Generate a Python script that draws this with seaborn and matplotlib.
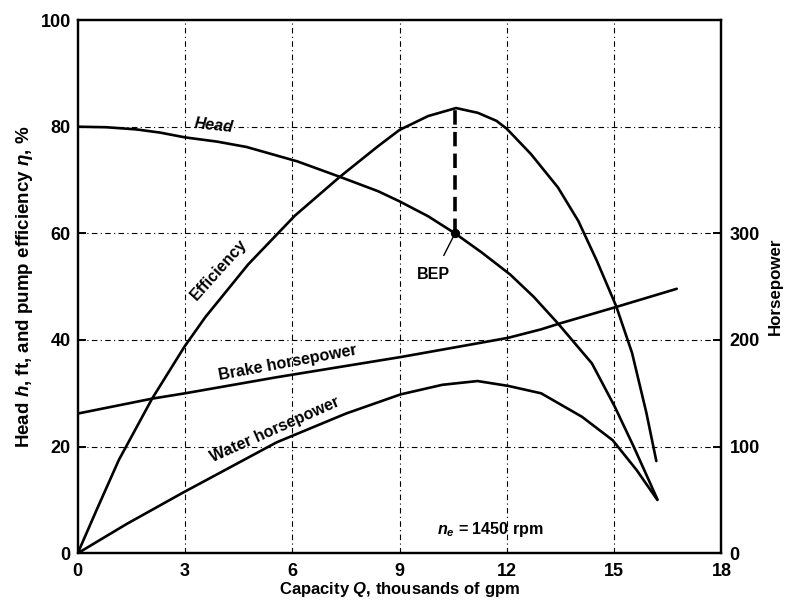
import matplotlib
matplotlib.use("Agg")
import matplotlib.pyplot as plt
import seaborn as sns
import pandas as pd

# ---- data ----
# Head h (ft) vs capacity Q (thousands of gpm)
q_head = [0, 0.8, 1.63, 2.3, 3.0, 3.9, 4.72, 6.14, 7.33, 8.4, 9.0, 9.8, 10.55, 11.3, 12.09,
          12.75, 13.43, 14.38, 15.01, 15.54, 15.95, 16.21]
head = [80, 79.9, 79.5, 78.9, 78.0, 77.2, 76.2, 73.5, 70.6, 67.9, 66.0, 63.2, 60, 56.4, 52.3,
        48.1, 43.1, 35.6, 27.6, 20.1, 14.0, 10.1]

# Pump efficiency (%)
q_eff = [0, 0.52, 1.15, 2.08, 2.99, 3.57, 4.77, 6.07, 7.33, 8.39, 9.0, 9.8, 10.58,
         11.19, 11.71, 12.0, 12.67, 13.43, 14.0, 14.52, 15.06, 15.5, 15.9, 16.18]
eff = [0, 8, 17.5, 29, 38.8, 44.3, 54.2, 63.3, 70.6, 76.3, 79.4, 82, 83.5,
       82.6, 81.1, 79.6, 74.9, 68.6, 62.3, 54.8, 46.3, 37.6, 26.4, 17.3]

# Brake horsepower (hp)
q_bhp = [0, 2.08, 3.0, 5.55, 9.03, 11.37, 12.03, 12.96, 13.43, 15.06, 16.75]
bhp = [131, 145, 150, 165, 184, 198, 202, 210, 215, 231, 248]

# Water horsepower (hp)
q_whp = [0, 1.37, 2.95, 5.56, 7.5, 9.03, 10.2, 11.18, 12.03, 12.96, 14.1, 14.96, 15.63, 16.21]
whp = [0, 27.5, 57, 104, 131, 149, 158, 161.5, 157, 150, 128, 106, 78, 50]

bep_q, bep_head, bep_eff = 10.55, 60, 83.5

x_ticks = [0, 3, 6, 9, 12, 15, 18]
y_ticks = [0, 20, 40, 60, 80, 100]
hp_ticks = [0, 100, 200, 300]

sns.set_style("white")
plt.rcParams['font.family'] = ['Liberation Sans', 'DejaVu Sans']
plt.rcParams['text.color'] = 'black'
plt.rcParams['axes.labelcolor'] = 'black'
plt.rcParams['mathtext.fontset'] = 'custom'
plt.rcParams['mathtext.it'] = 'Liberation Sans:italic:bold'
plt.rcParams['mathtext.rm'] = 'Liberation Sans:bold'
plt.rcParams['mathtext.bf'] = 'Liberation Sans:bold'

fig = plt.figure(figsize=(7.85, 6.08), dpi=100)
ax = fig.add_axes([0.099, 0.09, 0.82, 0.877])
ax2 = ax.twinx()

df_head = pd.DataFrame({"Q": q_head, "v": head})
df_eff = pd.DataFrame({"Q": q_eff, "v": eff})
df_bhp = pd.DataFrame({"Q": q_bhp, "v": bhp})
df_whp = pd.DataFrame({"Q": q_whp, "v": whp})

lw = 1.9
sns.lineplot(data=df_head, x="Q", y="v", ax=ax, color="black", lw=lw, sort=False)
sns.lineplot(data=df_eff, x="Q", y="v", ax=ax, color="black", lw=lw, sort=False)
sns.lineplot(data=df_bhp, x="Q", y="v", ax=ax2, color="black", lw=lw, sort=False)
sns.lineplot(data=df_whp, x="Q", y="v", ax=ax2, color="black", lw=lw, sort=False)

ax.set_xlim(0, 18)
ax.set_ylim(0, 100)
ax2.set_ylim(0, 500)
ax.set_xticks(x_ticks)
ax.set_yticks(y_ticks)
ax2.set_yticks(hp_ticks)

# grid: dash-dot lines
gstyle = dict(color="black", lw=0.8, ls=(0, (5, 3, 1, 3)), zorder=0)
for xv in x_ticks[1:-1]:
    ax.axvline(xv, **gstyle)
for yv in y_ticks[1:-1]:
    ax.axhline(yv, **gstyle)

# BEP
ax.plot([bep_q, bep_q], [bep_head, bep_eff], color="black", lw=2.6, ls=(0, (4, 2)))
ax.scatter([bep_q], [bep_head], color="black", s=32, zorder=5)
ax.annotate("BEP", xy=(bep_q, bep_head), xytext=(9.96, 52.2), fontsize=11.5,
            fontweight="bold", ha="center", va="center",
            arrowprops=dict(arrowstyle="-", color="black", lw=1.0, shrinkA=7, shrinkB=2))

# curve labels
tk = dict(fontsize=11.6, ha="center", va="center", color="black", fontweight="bold")
ax.text(3.81, 80.3, "Head", rotation=-6, style="italic", **tk)
ax.text(3.95, 53.2, "Efficiency", rotation=48, **tk)
ax.text(5.87, 35.8, "Brake horsepower", rotation=10.5, **tk)
ax.text(5.5, 23.2, "Water horsepower", rotation=24, **tk)
ax.text(11.54, 4.4, r"$n_e$ = 1450 rpm", **tk)

for a in (ax, ax2):
    for s in a.spines.values():
        s.set_linewidth(1.6)
        s.set_color("black")
    a.tick_params(direction="in", length=6, width=1.4, labelsize=13, colors="black")
ax.tick_params(axis="x", pad=7)
ax.tick_params(axis="y", pad=5)
ax2.tick_params(axis="y", pad=6)
for lab in ax.get_xticklabels() + ax.get_yticklabels() + ax2.get_yticklabels():
    lab.set_fontweight("bold")

ax.set_xlabel(r"Capacity $Q$, thousands of gpm", fontsize=12, fontweight="bold", labelpad=0)
ax.set_ylabel(r"Head $h$, ft, and pump efficiency $\eta$, %", fontsize=13.5,
              fontweight="bold", labelpad=4)
ax2.set_ylabel("Horsepower", fontsize=12.2, fontweight="bold", labelpad=6)

fig.savefig("out.png", dpi=100)
